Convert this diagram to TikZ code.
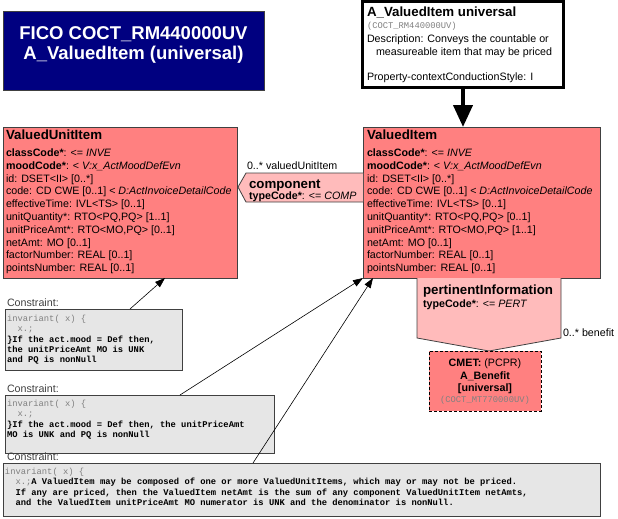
\documentclass[tikz,border=0pt]{standalone}
\usepackage{fontspec}
\setmainfont{Liberation Sans}
\setmonofont{Liberation Mono}
\usetikzlibrary{arrows.meta}
\definecolor{navy}{RGB}{0,0,128}
\definecolor{salmon}{RGB}{255,128,128}
\definecolor{pinkl}{RGB}{255,187,187}
\definecolor{cgray}{RGB}{230,230,230}
\definecolor{bord}{RGB}{64,64,64}
\definecolor{txtgray}{RGB}{128,128,128}
\newcommand{\bodyf}{\fontsize{10.7}{12.8}\selectfont}
\newcommand{\headf}{\fontsize{13.3}{12.8}\selectfont\bfseries}
\newcommand{\monof}{\fontsize{8.8}{10.4}\selectfont\ttfamily}
\newcommand{\gr}[1]{{\color{txtgray}\mdseries #1}}
\begin{document}
\begin{tikzpicture}[x=1pt,y=-1pt,
  every node/.style={inner sep=0pt,outer sep=0pt},
  classbox/.style={draw=bord,line width=0.8pt,fill=salmon,anchor=north west},
  cbox/.style={draw=bord,line width=0.8pt,fill=cgray,anchor=north west},
  txt/.style={anchor=base west,font=\bodyf},
  carrow/.style={draw=black,line width=0.6pt,-{Triangle[length=10pt,width=7pt]}},
  assoc/.style={draw=bord,line width=0.8pt,fill=pinkl}]
\useasboundingbox (0,0) rectangle (618,519);

% title
\node[draw=bord,fill=navy,anchor=north west,minimum width=261pt,minimum height=79pt] (title) at (3,11) {};
\node[text=white,font=\fontsize{18.5}{20.5}\selectfont\bfseries,align=center] (titletxt) at (133.5,44.8) {FICO COCT\_RM440000UV\\A\_ValuedItem (universal)};

% A_ValuedItem universal
\node[draw=black,line width=3pt,fill=white,anchor=north west,minimum width=201pt,minimum height=86pt] (avi) at (362.5,1.5) {};
\node[anchor=base west,font=\headf] (avititle) at (367,17) {A\_ValuedItem universal};
\node[anchor=base west,font=\fontsize{8.8}{10}\selectfont\ttfamily,text=txtgray] (avicode) at (367,28.5) {(COCT\_RM440000UV)};
\node[txt] (avid1) at (367,43) {Description: Conveys the countable or};
\node[txt] (avid2) at (376,56) {measureable item that may be priced};
\node[txt] (aviprop) at (367,81) {Property-contextConductionStyle: I};

% ValuedItem
\node[classbox,minimum width=237pt,minimum height=151pt] (vi) at (363,127) {};
\node[anchor=north west,align=left,font=\bodyf] (vitext) at (367,130) {{\headf ValuedItem}\\[4pt]
\textbf{classCode*}: <= \textit{INVE}\\
\textbf{moodCode*}: < \textit{V:x\_ActMoodDefEvn}\\
id: DSET<II> [0..*]\\
code: CD CWE [0..1] < \textit{D:ActInvoiceDetailCode}\\
effectiveTime: IVL<TS> [0..1]\\
unitQuantity*: RTO<PQ,PQ> [0..1]\\
unitPriceAmt*: RTO<MO,PQ> [1..1]\\
netAmt: MO [0..1]\\
factorNumber: REAL [0..1]\\
pointsNumber: REAL [0..1]};

% ValuedUnitItem
\node[classbox,minimum width=234pt,minimum height=151pt] (vui) at (3,127) {};
\node[anchor=north west,align=left,font=\bodyf] (vuitext) at (6,130) {{\headf ValuedUnitItem}\\[4pt]
\textbf{classCode*}: <= \textit{INVE}\\
\textbf{moodCode*}: < \textit{V:x\_ActMoodDefEvn}\\
id: DSET<II> [0..*]\\
code: CD CWE [0..1] < \textit{D:ActInvoiceDetailCode}\\
effectiveTime: IVL<TS> [0..1]\\
unitQuantity*: RTO<PQ,PQ> [1..1]\\
unitPriceAmt*: RTO<MO,PQ> [0..1]\\
netAmt: MO [0..1]\\
factorNumber: REAL [0..1]\\
pointsNumber: REAL [0..1]};

% thick arrow
\draw[line width=4pt,-{Triangle[length=22pt,width=19pt]}] (avi.south) -- (avi.south |- vi.north);

% component association
\path[assoc] (vi.west |- 0,173) -- (246,173) -- (238,187) -- (246,202) -- (vi.west |- 0,202);
\node[anchor=base west,font=\headf] (comp) at (249,188.5) {component};
\node[txt] (comptc) at (249,199.5) {\textbf{typeCode*}: <= \textit{COMP}};
\node[txt] (lab1) at (247,169) {0..* valuedUnitItem};

% pertinentInformation
\path[assoc] (417,278) -- (417,338) -- (489,351) -- (561,338) -- (561,278);
\node[anchor=base west,font=\headf] (pert) at (423,294.5) {pertinentInformation};
\node[txt] (perttc) at (423,307) {\textbf{typeCode*}: <= \textit{PERT}};
\node[txt] (lab2) at (563,336) {0..* benefit};

% CMET
\node[draw=black,line width=1pt,dash pattern=on 3pt off 2pt,fill=salmon,anchor=north west,minimum width=112pt,minimum height=60pt] (cmet) at (429,351) {};
\node[anchor=base,font=\bodyf] (cm1) at (cmet.north |- 0,366) {\textbf{CMET:} (PCPR)};
\node[anchor=base,font=\bodyf\bfseries] (cm2) at (cmet.north |- 0,379) {A\_Benefit};
\node[anchor=base,font=\bodyf\bfseries] (cm3) at (cmet.north |- 0,391) {[universal]};
\node[anchor=base,font=\fontsize{8.8}{10}\selectfont\ttfamily,text=txtgray] (cm4) at (cmet.north |- 0,402) {(COCT\_MT770000UV)};

% constraint 1
\node[txt,text=bord] (cl1) at (7,306) {Constraint:};
\node[cbox,minimum width=177pt,minimum height=61pt] (con1) at (5,309) {};
\node[anchor=north west,align=left,font=\monof] (con1t) at (7,315) {\gr{invariant( x) \{}\\
\gr{\phantom{ii}x.;}\\
\textbf{\}If the act.mood = Def then,}\\
\textbf{the unitPriceAmt MO is UNK}\\
\textbf{and PQ is nonNull}};

% constraint 2
\node[txt,text=bord] (cl2) at (7,392) {Constraint:};
\node[cbox,minimum width=269pt,minimum height=58pt] (con2) at (5,395) {};
\node[anchor=north west,align=left,font=\monof] (con2t) at (7,400) {\gr{invariant( x) \{}\\
\gr{\phantom{ii}x.;}\\
\textbf{\}If the act.mood = Def then, the unitPriceAmt}\\
\textbf{MO is UNK and PQ is nonNull}};

% constraint 3
\node[txt,text=bord] (cl3) at (7,460) {Constraint:};
\node[cbox,minimum width=597pt,minimum height=53pt] (con3) at (3,463) {};
\node[anchor=north west,align=left,font=\monof] (con3t) at (5,468) {\gr{invariant( x) \{}\\
\gr{\phantom{ii}x.;}\textbf{A ValuedItem may be composed of one or more ValuedUnitItems, which may or may not be priced.}\\
\phantom{ii}\textbf{If any are priced, then the ValuedItem netAmt is the sum of any component ValuedUnitItem netAmts,}\\
\phantom{ii}\textbf{and the ValuedItem unitPriceAmt MO numerator is UNK and the denominator is nonNull.}};

% constraint connectors
\draw[carrow] ([xshift=125pt]con1.north west) -- ([xshift=162pt]vui.south west);
\draw[carrow] ([xshift=175pt]con2.north west) -- (vi.south west);
\draw[carrow] ([xshift=250pt]con3.north west) -- ([xshift=10pt]vi.south west);
\end{tikzpicture}
\end{document}
